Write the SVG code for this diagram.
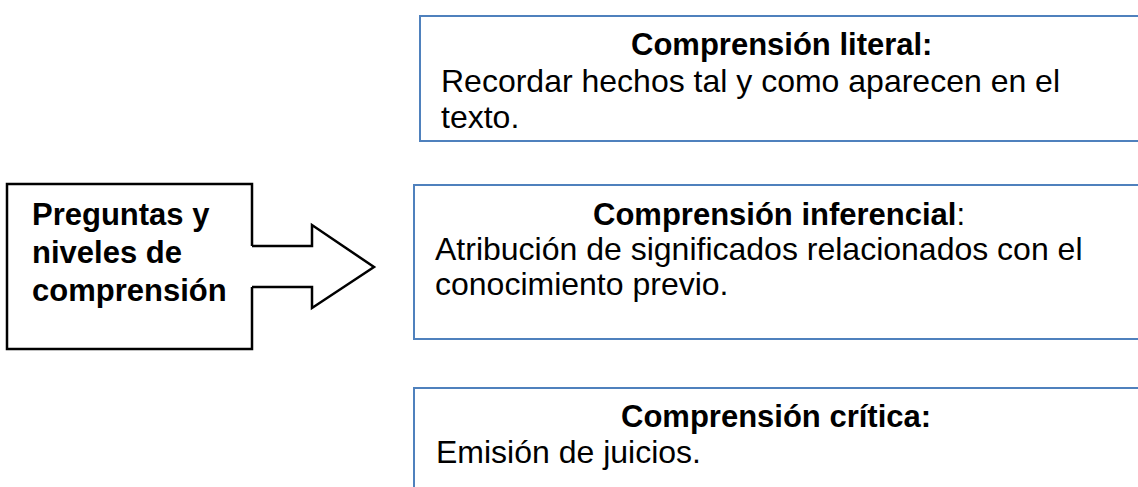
<svg xmlns="http://www.w3.org/2000/svg" width="1138" height="487" viewBox="0 0 1138 487">
<style>
.lvl{fill:#fff;stroke:#4f81bd;stroke-width:2}
.t{font-family:"Liberation Sans",Arial,sans-serif;fill:#000}
.h{font-size:31px;font-weight:bold}
.b{font-size:32px}
.m{font-size:31px;font-weight:bold}
</style>
<rect width="1138" height="487" fill="#fff"/>
<g id="main">
<rect x="7" y="184" width="245" height="165" fill="#fff" stroke="#000" stroke-width="2.5"/>
<text class="t m" x="32" y="225">Preguntas y</text>
<text class="t m" x="32" y="263">niveles de</text>
<text class="t m" x="32" y="301">comprensión</text>
</g>
<g id="connectors">
<polygon points="250,246 312,246 312,225 374,267 312,308 312,287 250,287" fill="#fff" stroke="none"/>
<polyline points="252,246 312,246 312,225 374,267 312,308 312,287 252,287" fill="none" stroke="#000" stroke-width="2.5" stroke-linejoin="miter"/>
</g>
<g id="literal">
<rect class="lvl" x="420" y="16" width="740" height="125"/>
<text class="t h" x="631" y="55">Comprensión literal:</text>
<text class="t b" x="441" y="92">Recordar hechos tal y como aparecen en el</text>
<text class="t b" x="441" y="128">texto.</text>
</g>
<g id="inferencial">
<rect class="lvl" x="414" y="185" width="740" height="154"/>
<text class="t h" x="593" y="225">Comprensión inferencial<tspan font-weight="normal">:</tspan></text>
<text class="t b" x="435" y="260">Atribución de significados relacionados con el</text>
<text class="t b" x="435" y="295">conocimiento previo.</text>
</g>
<g id="critica">
<rect class="lvl" x="414" y="388" width="740" height="120"/>
<text class="t h" x="621" y="427">Comprensión crítica:</text>
<text class="t b" x="436" y="463">Emisión de juicios.</text>
</g>
</svg>
